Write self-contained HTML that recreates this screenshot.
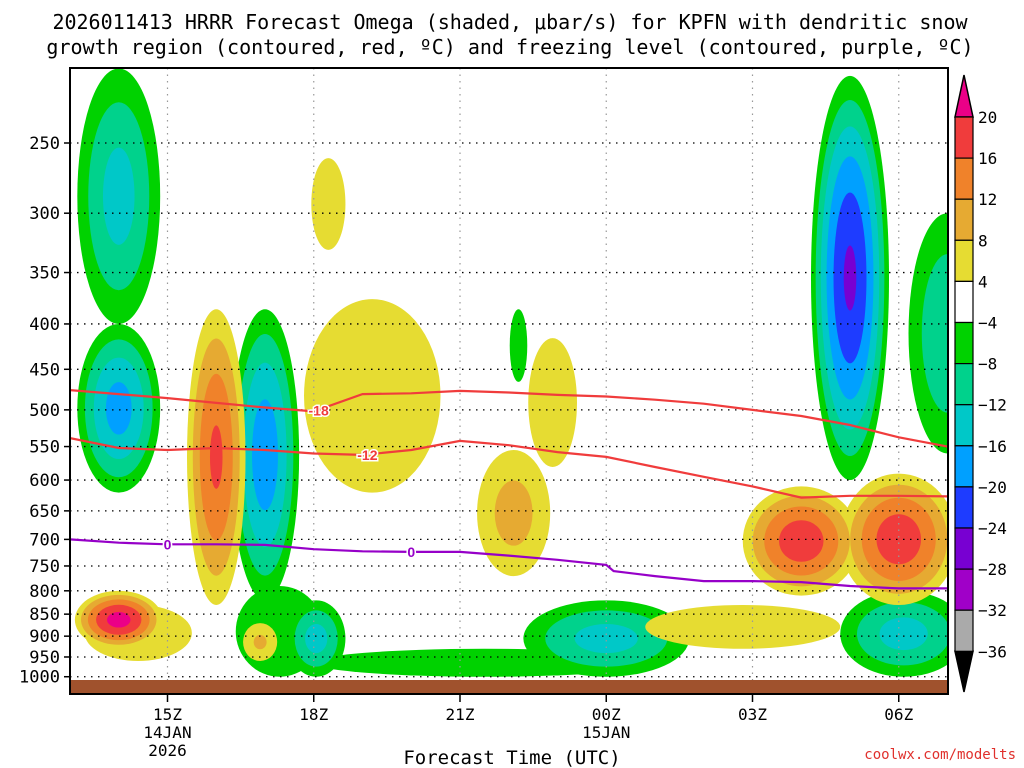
<!DOCTYPE html>
<html><head><meta charset="utf-8"><style>
body{margin:0;background:#fff;}
svg{display:block;font-family:"Liberation Sans",sans-serif;}
.mono{font-family:"DejaVu Sans Mono","Liberation Mono",monospace;}
</style></head><body>
<svg id="c" width="1024" height="768" viewBox="0 0 1024 768">
<defs><clipPath id="pc"><rect x="70" y="68" width="878" height="626"/></clipPath></defs>
<text class="mono" x="510" y="29" font-size="20" text-anchor="middle">2026011413 HRRR Forecast Omega (shaded, μbar/s) for KPFN with dendritic snow</text>
<text class="mono" x="510" y="54" font-size="20" text-anchor="middle">growth region (contoured, red, ºC) and freezing level (contoured, purple, ºC)</text>
<g id="fill" clip-path="url(#pc)"></g>
<g id="grid"></g>
<g id="lines" clip-path="url(#pc)"></g>
<g id="axes"></g>
<g id="cbar"></g>
<text class="mono" x="512" y="764" font-size="19" text-anchor="middle">Forecast Time (UTC)</text>
<text class="mono" x="1016" y="759" font-size="14" fill="#e0302c" text-anchor="end">coolwx.com/modelts</text>
</svg>
<script>
// data
const pLevels=[250,300,350,400,450,500,550,600,650,700,750,800,850,900,950,1000];
const xTickHours=[15,18,21,24,27,30];
const xTickLabels=["15Z","18Z","21Z","00Z","03Z","06Z"];
const cbLabels=[20,16,12,8,4,-4,-8,-12,-16,-20,-24,-28,-32,-36];
const cbColors=["#f03c3c","#f0822a","#e6aa32","#e6dc32","#ffffff","#00d200","#00d28c","#00c8c8","#00a0ff","#1e3cff","#7800d2","#a000c8","#aaaaaa"];
// omega features: hour, top p, bottom p, half-width hours, peak value
const featHour=[14.0,14.0,14.4,14.0,16.0,17.0,17.3,18.05,16.9,18.3,19.2,22.2,22.9,22.1,21.5,24.0,26.8,28.0,30.0,29.0,31.0,30.1];
const featTop =[206,400,830,800,385,385,790,820,870,260,375,385,415,555,930,820,830,610,590,210,300,800];
const featBot =[400,620,960,930,830,820,1000,1000,960,330,620,465,580,770,1000,1000,930,810,830,600,560,1000];
const featHW  =[0.85,0.85,1.1,0.9,0.6,0.7,0.9,0.6,0.35,0.35,1.4,0.18,0.5,0.75,3.5,1.7,2.0,1.2,1.2,0.8,0.8,1.3];
const featPeak=[-14,-18,6,22,17,-19,-6,-14,9,6,7,-6,6,10,-6,-14,6,19,19,-25,-12,-14];
// contour lines
const lineHours=[13,14,15,16,17,18,19,20,21,22,23,24,25,26,27,28,29,30,31];
const dgzWarm=[475,480,485,491,497,502,480,479,476,478,481,483,487,492,500,508,520,537,550];
const dgzCold=[538,552,555,552,555,560,562,555,542,548,558,565,580,595,610,628,625,625,626];
const frzHours=[13,14,15,16,17,18,19,20,21,22,23,24,24.15,25,26,27,28,29,30,31];
const frzLevel=[700,706,709,709,710,718,722,723,723,730,738,748,760,770,780,780,782,790,795,795];

const NS="http://www.w3.org/2000/svg";
const X=h=>70+(h-13)*48.75;
const Y=p=>143+385*Math.log(p/250);
function mk(tag,attrs,parent){const e=document.createElementNS(NS,tag);for(const k in attrs)e.setAttribute(k,attrs[k]);parent.appendChild(e);return e;}
const posT=[4,8,12,16,20],negT=[-4,-8,-12,-16,-20,-24,-28,-32];
const posC=["#e6dc32","#e6aa32","#f0822a","#f03c3c","#eb0087"];
const negC=["#00d200","#00d28c","#00c8c8","#00a0ff","#1e3cff","#7800d2","#a000c8","#aaaaaa"];
const fill=document.getElementById('fill');
function drawSet(th,cols,sgn){
  th.forEach((L,li)=>{
    featPeak.forEach((pk,i)=>{
      if(Math.sign(pk)!==sgn||Math.abs(pk)<=Math.abs(L))return;
      const s=Math.pow((Math.abs(pk)-Math.abs(L))/(Math.abs(pk)-4+0.001),0.6);
      const yt=Y(featTop[i]),yb=Y(featBot[i]);
      const e=mk('ellipse',{cx:X(featHour[i]),cy:(yt+yb)/2,rx:featHW[i]*48.75*s,ry:(yb-yt)/2*s,fill:cols[li]},fill);
      
      
    });
  });
}
drawSet(negT,negC,-1);drawSet(posT,posC,1);
const g=document.getElementById('grid');
pLevels.forEach(p=>{mk('line',{x1:70,x2:948,y1:Y(p),y2:Y(p),stroke:"#000","stroke-dasharray":"1.5 5.5","stroke-width":1.3},g);});
xTickHours.forEach(h=>{mk('line',{x1:X(h),x2:X(h),y1:68,y2:694,stroke:"#999","stroke-dasharray":"1.5 5","stroke-width":1.2},g);});
const gr=mk('rect',{x:70,y:680,width:878,height:14,fill:"#a0522d"},g);


const ln=document.getElementById('lines');
function path(hs,ps,col,name){
  const d=hs.map((h,i)=>(i?'L':'M')+X(h).toFixed(1)+','+Y(ps[i]).toFixed(1)).join('');
  const e=mk('path',{d:d,fill:"none",stroke:col,"stroke-width":2.2},ln);
  
  
}
path(lineHours,dgzWarm,"#f03c3c","dgz-minus18-line");
path(lineHours,dgzCold,"#f03c3c","dgz-minus12-line");
path(frzHours,frzLevel,"#9600c8","freezing-level-line");
function lab(h,p,t,col){
  const e=mk('text',{x:X(h),y:Y(p)+5,"font-size":14,"font-weight":"bold",fill:col,"text-anchor":"middle",stroke:"#fff","stroke-width":3,"paint-order":"stroke"},ln);e.textContent=t;}
lab(18.1,501,"-18","#f03c3c");lab(19.1,562,"-12","#f03c3c");lab(15,709,"0","#9600c8");lab(20,723,"0","#9600c8");
const ax=document.getElementById('axes');
mk('rect',{x:70,y:68,width:878,height:626,fill:"none",stroke:"#000","stroke-width":2},ax);
pLevels.forEach(p=>{const y=Y(p);
  mk('line',{x1:70,x2:64,y1:y,y2:y,stroke:"#000","stroke-width":1.5},ax);
  const t=mk('text',{x:60,y:y+6,"font-size":17,"text-anchor":"end","class":"mono"},ax);t.textContent=p;
  
  });
xTickHours.forEach((h,i)=>{const x=X(h);
  mk('line',{x1:x,x2:x,y1:694,y2:702,stroke:"#000","stroke-width":1.5},ax);
  const t=mk('text',{x:x,y:720,"font-size":16,"text-anchor":"middle","class":"mono"},ax);t.textContent=xTickLabels[i];
  
  });
[[15,"14JAN",738],[15,"2026",756],[24,"15JAN",738]].forEach(a=>{const t=mk('text',{x:X(a[0]),y:a[2],"font-size":16,"text-anchor":"middle","class":"mono"},ax);t.textContent=a[1];
  
  });
const cb=document.getElementById('cbar');
const cbTop=117,cbStep=41.1;
mk('polygon',{points:`955,${cbTop} 973,${cbTop} 964,75`,fill:"#eb0087",stroke:"#000","stroke-width":1.5},cb);
mk('polygon',{points:`955,${cbTop+13*cbStep} 973,${cbTop+13*cbStep} 964,692`,fill:"#000",stroke:"#000","stroke-width":1.5},cb);
cbColors.forEach((c,i)=>{const r=mk('rect',{x:955,y:cbTop+i*cbStep,width:18,height:cbStep,fill:c,stroke:"#000","stroke-width":1.2},cb);
  
  });
cbLabels.forEach((v,i)=>{const t=mk('text',{x:978,y:cbTop+i*cbStep+6,"font-size":16,"class":"mono"},cb);t.textContent=(v<0?"−":"")+Math.abs(v);
  
  });
</script>
</body></html>
